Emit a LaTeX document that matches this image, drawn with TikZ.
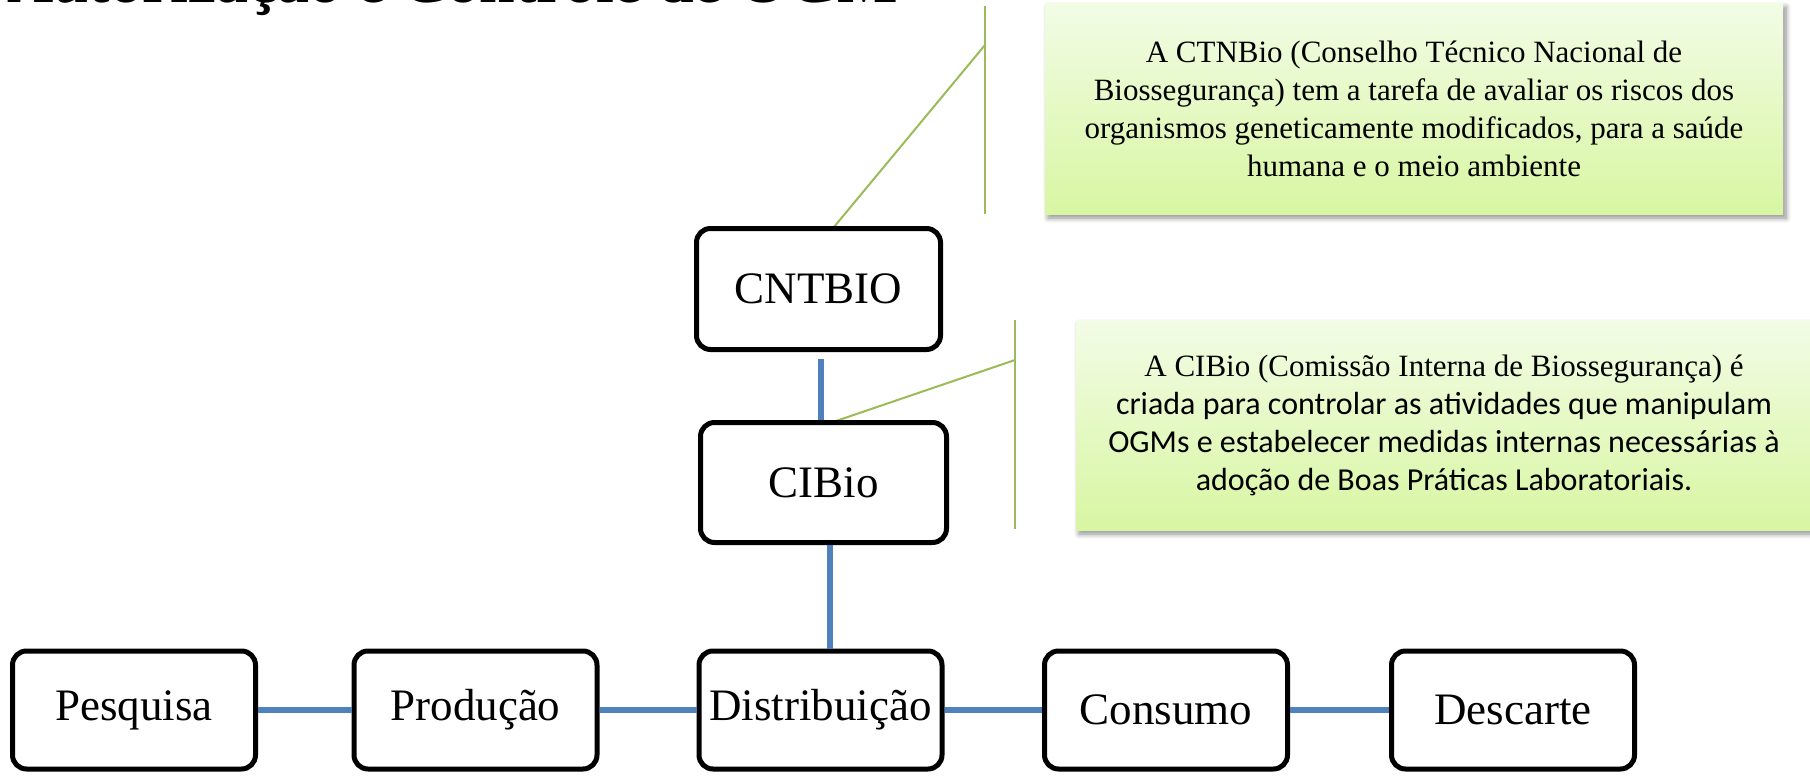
\documentclass[tikz,border=0pt]{standalone}
\usepackage{fontspec}
\setmainfont{Liberation Serif}
\newfontfamily\calib{Carlito}
\usetikzlibrary{shadows.blur}
\definecolor{connblue}{HTML}{4F81BD}
\definecolor{callgreen}{HTML}{9BBB59}
\definecolor{calltop}{HTML}{F2FCE6}
\definecolor{callbot}{HTML}{D8F6A2}
\begin{document}
\begin{tikzpicture}[x=1pt,y=-1pt,
  stage/.style={draw=black, line width=5pt, rounded corners=14pt, fill=white,
    minimum width=243pt, minimum height=118pt, inner sep=0pt,
    font=\fontsize{45}{50}\selectfont},
  conn/.style={draw=connblue, line width=6pt},
  lead/.style={draw=callgreen, line width=2pt},
  callout/.style={top color=calltop, bottom color=callbot, draw=none, inner sep=0pt,
    align=center,
    blur shadow={shadow xshift=3pt, shadow yshift=-4pt, shadow blur steps=8,
      shadow blur radius=5pt, shadow opacity=45}}]
\useasboundingbox (0,0) rectangle (1810,776);
\clip (0,0) rectangle (1810,776);

% title (cut off at the top)
\node[anchor=base west, inner sep=0pt, font=\bfseries\fontsize{64}{70}\selectfont]
  (title) at (7,3) {Autorização e Controle de OGM};

% callouts
\node[callout, minimum width=738pt, minimum height=211pt,
  font=\fontsize{31}{38}\selectfont] (call1) at (1414,108.5)
  {A CTNBio (Conselho Técnico Nacional de\\
   Biossegurança) tem a tarefa de avaliar os riscos dos\\
   organismos geneticamente modificados, para a saúde\\
   humana e o meio ambiente};
\node[callout, minimum width=736pt, minimum height=210pt,
  font=\calib\fontsize{32}{38}\selectfont] (call2) at (1444,425)
  {{\rmfamily\fontsize{31}{38}\selectfont A CIBio (Comissão Interna de Biossegurança) é}\\
   criada para controlar as atividades que manipulam\\
   OGMs e estabelecer medidas internas necessárias à\\
   adoção de Boas Práticas Laboratoriais.};

% leader lines
\coordinate (l1top) at (985,6);
\coordinate (l1bot) at (985,214);
\coordinate (l1mid) at (985,45);
\coordinate (l1end) at (834,227);
\coordinate (l2top) at (1015,320);
\coordinate (l2bot) at (1015,529);
\coordinate (l2mid) at (1015,360);
\coordinate (l2end) at (833,422);
\draw[lead] (l1top) -- (l1bot);
\draw[lead] (l1mid) -- (l1end);
\draw[lead] (l2top) -- (l2bot);
\draw[lead] (l2mid) -- (l2end);

% boxes
\node[stage, minimum width=244pt, minimum height=121pt] (cnt) at (818.5,289) {CNTBIO};
\node[stage, minimum width=246pt, minimum height=120pt] (cib) at (823.5,482.5) {CIBio};
\node[stage] (pes) at (134,710) {Pesquisa};
\node[stage] (pro) at (475.5,710) {Produção};
\node[stage] (dis) at (820.5,710) {Distribuição};
\node[stage] (con) at (1166,710) {Consumo};
\node[stage] (des) at (1513,710) {Descarte};

% connectors
\coordinate (c1) at (821,359);
\draw[conn] (c1) -- (c1 |- cib.north);
\draw[conn] ([xshift=6.5pt]cib.south) -- ([xshift=6.5pt]cib.south |- dis.north);
\draw[conn] (pes.east) -- (pro.west);
\draw[conn] (pro.east) -- (dis.west);
\draw[conn] (dis.east) -- (con.west);
\draw[conn] (con.east) -- (des.west);
\end{tikzpicture}
\end{document}
